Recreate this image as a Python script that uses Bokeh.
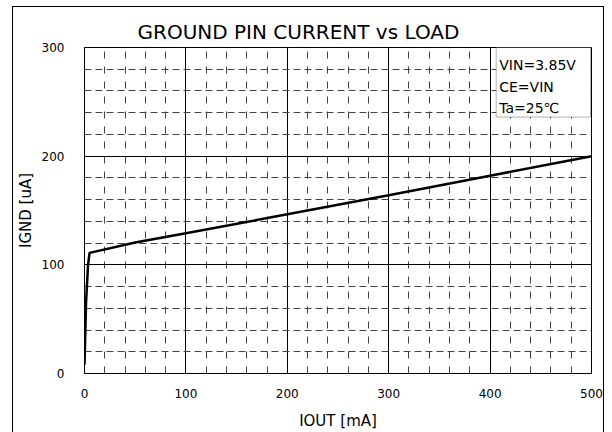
from bokeh.plotting import figure
from bokeh.models import Range1d, SingleIntervalTicker, Label, BoxAnnotation
from bokeh.embed import file_html
from bokeh.resources import INLINE

# data
iout = [0, 1.5, 3.5, 5, 50, 100, 200, 300, 400, 500]
ignd = [8, 65, 100, 111, 120.5, 129, 146.5, 164, 182, 200]

title_text = "GROUND PIN CURRENT vs LOAD"
x_label = "IOUT [mA]"
y_label = "IGND [uA]"
cond_lines = ["VIN=3.85V", "CE=VIN", "Ta=25\u2103"]

FONT = "DejaVu Sans"

p = figure(width=612, height=432, output_backend="svg", toolbar_location=None,
           x_range=Range1d(0, 500), y_range=Range1d(0, 300),
           min_border_left=84, min_border_right=21, min_border_top=47,
           min_border_bottom=58)
p.background_fill_color = "white"
p.border_fill_color = None
p.outline_line_color = "black"
p.outline_line_width = 1
p.styles = {
    "background-color": "white",
    "background-image": ("linear-gradient(black, black), "
                         "linear-gradient(black, black), "
                         "linear-gradient(black, black)"),
    "background-size": "1px 100%, 592px 1px, 1px 100%",
    "background-position": "12px 6px, 12px 6px, 603px 6px",
    "background-repeat": "no-repeat",
}

p.title.text = title_text
p.title.text_font = FONT
p.title.text_font_size = "20px"
p.title.text_font_style = "normal"
p.title.text_color = "black"
p.title.align = "left"
p.title.offset = 53
p.title.standoff = 7

xt = SingleIntervalTicker(interval=100, num_minor_ticks=5)
yt = SingleIntervalTicker(interval=100, num_minor_ticks=5)
p.xaxis.ticker = xt
p.yaxis.ticker = yt
p.xgrid.ticker = xt
p.ygrid.ticker = yt

for ax in (p.xaxis[0], p.yaxis[0]):
    ax.major_tick_line_color = None
    ax.minor_tick_line_color = None
    ax.axis_line_color = "black"
    ax.major_label_text_font = FONT
    ax.major_label_text_font_size = "12px"
    ax.major_label_text_color = "black"
    ax.axis_label_text_font = FONT
    ax.axis_label_text_font_size = "15px"
    ax.axis_label_text_font_style = "normal"
    ax.axis_label_text_color = "black"
p.xaxis.axis_label = x_label
p.yaxis.axis_label = y_label
p.xaxis.major_label_standoff = 9
p.yaxis.major_label_standoff = 14
p.xaxis.axis_label_standoff = 11
p.yaxis.axis_label_standoff = 4

for g in (p.xgrid[0], p.ygrid[0]):
    g.grid_line_color = "black"
    g.grid_line_width = 1
    g.grid_line_alpha = 1
    g.minor_grid_line_color = "#444444"
    g.minor_grid_line_width = 1
p.xgrid.minor_grid_line_dash = "7 8"
p.ygrid.minor_grid_line_dash = "7 4"

p.line(iout, ignd, line_color="black", line_width=2.5)

# condition box
p.add_layout(BoxAnnotation(left=406, right=499, top=300, bottom=236,
                           fill_color="white", fill_alpha=1,
                           line_color="black", line_width=1))
for txt, yy in zip(cond_lines, [283.5, 263.8, 244]):
    p.add_layout(Label(x=409, y=yy, text=txt, text_font=FONT,
                       text_font_size="14px", text_color="black",
                       text_baseline="alphabetic"))

open("out.html", "w").write(file_html(p, INLINE))
